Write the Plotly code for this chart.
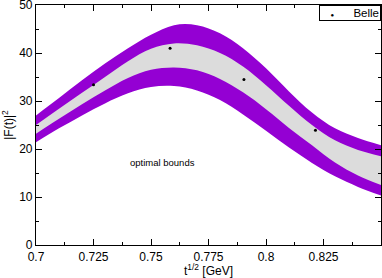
import plotly.graph_objects as go

# sample abscissae for the band edges (sqrt(t) in GeV)
x_grid = [0.70, 0.71, 0.72, 0.73, 0.74, 0.75, 0.76, 0.77, 0.78, 0.79,
          0.80, 0.81, 0.82, 0.83, 0.84, 0.85]
# outer (purple) band edges
outer_upper = [27.0, 30.6, 34.3, 37.8, 41.0, 43.8, 45.8, 45.8, 44.1, 41.0,
               36.8, 32.0, 27.6, 24.3, 22.3, 20.8]
outer_lower = [21.4, 24.3, 27.0, 29.5, 31.6, 32.9, 33.1, 32.2, 30.2, 27.2,
               23.8, 20.3, 17.1, 14.3, 12.1, 10.3]
# inner (grey) band edges
inner_upper = [25.0, 28.4, 31.7, 35.0, 38.3, 40.9, 42.0, 41.6, 40.0, 37.2,
               33.3, 29.0, 25.0, 21.8, 19.8, 18.5]
inner_lower = [23.2, 26.3, 29.3, 32.2, 34.8, 36.5, 37.0, 36.4, 34.6, 31.8,
               28.3, 24.4, 20.8, 17.2, 14.5, 12.5]

# Belle data points
belle_x = [0.725, 0.7583, 0.7904, 0.8215]
belle_y = [33.4, 41.0, 34.5, 23.9]

x_ticks = [0.7, 0.725, 0.75, 0.775, 0.8, 0.825]
x_tick_labels = ["0.7", "0.725", "0.75", "0.775", "0.8", "0.825"]
y_ticks = [0, 10, 20, 30, 40, 50]

PURPLE = "#9400D3"
GREY = "#DCDCDC"
FONT = "Liberation Sans, Arial, sans-serif"

fig = go.Figure()
fig.add_trace(go.Scatter(x=x_grid, y=outer_lower, mode="lines", line=dict(width=0, shape="spline"),
                         showlegend=False, hoverinfo="skip"))
fig.add_trace(go.Scatter(x=x_grid, y=outer_upper, mode="lines", line=dict(width=0, shape="spline"),
                         fill="tonexty", fillcolor=PURPLE, showlegend=False, hoverinfo="skip"))
fig.add_trace(go.Scatter(x=x_grid, y=inner_upper, mode="lines", line=dict(width=0, shape="spline"),
                         showlegend=False, hoverinfo="skip"))
fig.add_trace(go.Scatter(x=x_grid, y=inner_lower, mode="lines", line=dict(width=0, shape="spline"),
                         fill="tonexty", fillcolor=GREY, showlegend=False, hoverinfo="skip"))
fig.add_trace(go.Scatter(x=belle_x, y=belle_y, mode="markers", name="Belle", showlegend=False,
                         marker=dict(color="black", size=3, symbol="circle")))

fig.add_annotation(x=0.7552, y=17.1, text="optimal bounds", showarrow=False,
                   font=dict(size=9.5, color="black", family=FONT))

# compact legend box (top right)
fig.add_annotation(xref="paper", yref="paper", x=1, y=1, xanchor="right", yanchor="top",
                   text="&nbsp;&nbsp;&nbsp;<span style='font-size:6px'>●</span>"
                        "&nbsp;&nbsp;&nbsp;&nbsp;&nbsp;&nbsp;Belle",
                   showarrow=False, align="left",
                   font=dict(size=11.5, color="black", family=FONT),
                   bordercolor="black", borderwidth=1, borderpad=1, bgcolor="white")

axis_common = dict(showline=True, linecolor="black", linewidth=1.2, mirror="ticks",
                   ticks="inside", ticklen=6, tickwidth=1, tickcolor="black",
                   showgrid=False, zeroline=False, ticklabeloverflow="allow",
                   tickfont=dict(size=12, color="black", family=FONT))

fig.update_xaxes(range=[0.7, 0.85], tickvals=x_ticks, ticktext=x_tick_labels,
                 minor=dict(dtick=0.0125, tick0=0.7, ticks="inside", ticklen=3, tickcolor="black"),
                 title=dict(text="t<sup>1/2</sup> [GeV]", font=dict(size=12, color="black", family=FONT),
                            standoff=2),
                 **axis_common)
fig.update_yaxes(range=[0, 50], tickvals=y_ticks,
                 minor=dict(dtick=5, tick0=0, ticks="inside", ticklen=3, tickcolor="black"),
                 title=dict(text="|F(t)|<sup>2</sup>", font=dict(size=12, color="black", family=FONT),
                            standoff=4),
                 **axis_common)

fig.update_layout(
    width=382, height=278,
    margin=dict(l=36, r=1, t=5, b=33, autoexpand=False),
    plot_bgcolor="white", paper_bgcolor="white",
    showlegend=False,
    font=dict(family=FONT, color="black"),
)

fig.write_html("out.html", config={"displayModeBar": False},
               post_script="document.body.style.margin='0';")
